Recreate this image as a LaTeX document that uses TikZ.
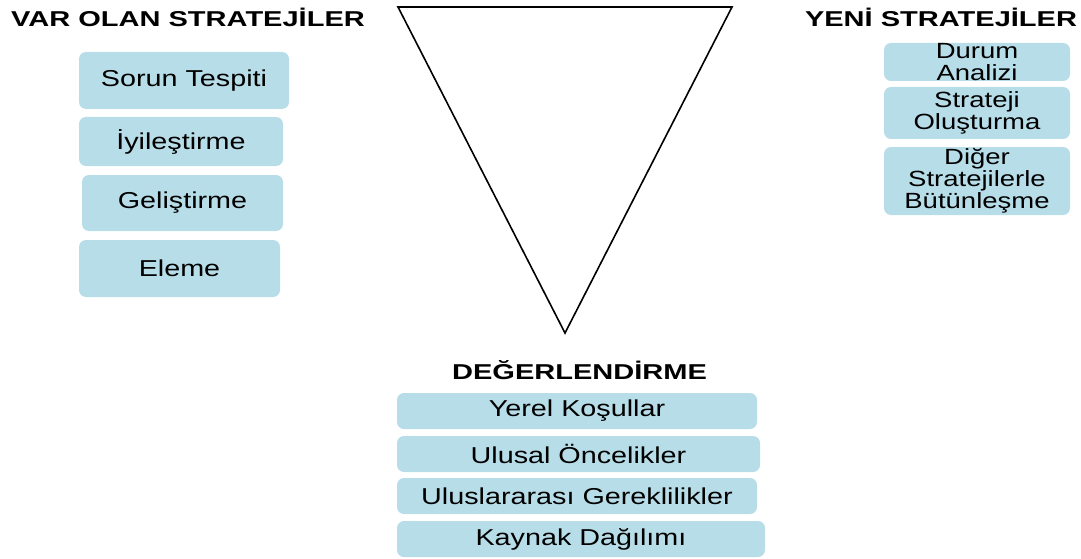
\documentclass[tikz,border=0pt]{standalone}
\usepackage{fontspec}
\setmainfont{Liberation Sans}[FakeStretch=1.25]
\newfontfamily\baslikfont{Liberation Sans Bold}[FakeStretch=1.35]
\definecolor{kutumavi}{HTML}{B7DDE8}
\begin{document}
\begin{tikzpicture}[x=1pt,y=-1pt]
	\tikzstyle{every node}+=[inner sep=0pt, font=\fontsize{23}{24}\selectfont]
	\tikzstyle{kutu}=[fill=kutumavi, rounded corners=7pt, align=center]
	\tikzstyle{sagkutu}=[kutu, minimum width=186pt, font=\fontsize{22}{22}\selectfont]
	\tikzstyle{baslik}=[font=\fontsize{21.5}{22}\baslikfont]
	\useasboundingbox (0,0) rectangle (1081,559);
	\draw [black, line width=1.6pt] (398,7) -- (732,7) -- (565,333) -- cycle;
	\node [baslik] (varolan) at (188,17) {VAR OLAN STRATEJİLER};
	\node [kutu, minimum width=210pt, minimum height=57pt] (sorun) at (184,80.5) {Sorun Tespiti};
	\node [kutu, minimum width=204pt, minimum height=49pt] (iyiles) at (181,141.5) {İyileştirme};
	\node [kutu, minimum width=201pt, minimum height=56pt] (gelis) at (182.5,203) {Geliştirme};
	\node [kutu, minimum width=201pt, minimum height=57pt] (eleme) at (179.5,268.5) {Eleme};
	\node [baslik] (yeni) at (941,17) {YENİ STRATEJİLER};
	\node [sagkutu, minimum height=38pt] (durum) at (977,62) {Durum\\Analizi};
	\node [sagkutu, minimum height=52pt] (strateji) at (977,113) {Strateji\\Oluşturma};
	\node [sagkutu, minimum height=68pt] (diger) at (977,181) {Diğer\\Stratejilerle\\Bütünleşme};
	\node [baslik] (degerlendirme) at (579.5,370) {DEĞERLENDİRME};
	\node [kutu, minimum width=360pt, minimum height=36pt] (yerel) at (577,411) {Yerel Koşullar};
	\node [kutu, minimum width=363pt, minimum height=36pt] (ulusal) at (578.5,454) {Ulusal Öncelikler};
	\node [kutu, minimum width=360pt, minimum height=36pt] (uluslar) at (577,496) {Uluslararası Gereklilikler};
	\node [kutu, minimum width=368pt, minimum height=36pt] (kaynak) at (581,539) {Kaynak Dağılımı};
\end{tikzpicture}
\end{document}
